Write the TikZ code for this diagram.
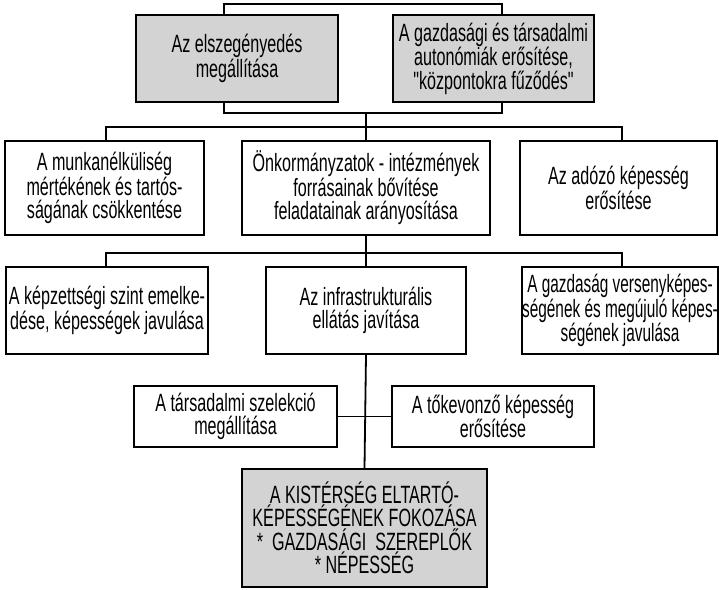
\documentclass[tikz,border=0pt]{standalone}
\usepackage{fontspec}
\newfontfamily\diagfont{Liberation Sans}[FakeStretch=0.645]
\newfontfamily\diagfontn{Liberation Sans}[FakeStretch=0.615]
\definecolor{boxgray}{RGB}{211,211,211}
\tikzset{
  box/.style={draw=black, line width=1.8pt, align=center, inner sep=0pt,
    font=\diagfont\fontsize{25}{23.5}\selectfont},
  narrow/.style={font=\diagfontn\fontsize{25}{23.5}\selectfont},
  grey/.style={fill=boxgray},
  conn/.style={line width=1.8pt}
}
\begin{document}
\begin{tikzpicture}[x=1pt,y=-1pt]
\useasboundingbox (0,0) rectangle (719,589);
% top level
\node[box,grey,minimum width=202pt,minimum height=87pt] (top1) at (237,58.5) {Az elszegényedés\\megállítása};
\node[box,grey,minimum width=201pt,minimum height=87pt] (top2) at (493.5,58.5) {A gazdasági és társadalmi\\autonómiák erősítése,\\"központokra fűződés"};
% level 2
\node[box,minimum width=199pt,minimum height=94pt] (l2a) at (104.5,188) {A munkanélküliség\\mértékének és tartós-\\ságának csökkentése};
\node[box,minimum width=248pt,minimum height=94pt] (l2b) at (366,188) {Önkormányzatok - intézmények\\forrásainak bővítése\\feladatainak arányosítása};
\node[box,minimum width=197pt,minimum height=94pt] (l2c) at (618.5,188) {Az adózó képesség\\erősítése};
% level 3
\node[box,minimum width=202pt,minimum height=87pt] (l3a) at (107,310.5) {A képzettségi szint emelke-\\dése, képességek javulása};
\node[box,minimum width=200pt,minimum height=87pt] (l3b) at (366,310.5) {Az infrastrukturális\\ellátás javítása};
\node[box,narrow,minimum width=196pt,minimum height=87pt] (l3c) at (620,310.5) {A gazdaság versenyképes-\\ségének és megújuló képes-\\ségének javulása};
% level 4
\node[box,minimum width=203pt,minimum height=61pt] (l4a) at (235.5,416.5) {A társadalmi szelekció\\megállítása};
\node[box,minimum width=202pt,minimum height=61pt] (l4b) at (493,416.5) {A tőkevonző képesség\\erősítése};
% bottom
\node[box,grey,minimum width=245pt,minimum height=118pt] (bot) at (364.5,528) {A KISTÉRSÉG ELTARTÓ-\\KÉPESSÉGÉNEK FOKOZÁSA\\*\ \ GAZDASÁGI\ \ SZEREPLŐK\\* NÉPESSÉG};
% connector points
\coordinate (t0) at (366,4);
\coordinate (m1) at (366,113);
\coordinate (m2) at (366,127);
\coordinate (m3) at (366,253);
% connectors
\draw[conn] ([xshift=-13pt]top1.north) |- (t0) -| ([xshift=8.5pt]top2.north);
\draw[conn] ([xshift=-13pt]top1.south) |- (m1) -| ([xshift=8.5pt]top2.south);
\draw[conn] (m1) -- (m2);
\draw[conn] ([xshift=1.5pt]l2a.north) |- (m2) -| ([xshift=3.5pt]l2c.north);
\draw[conn] (m2) -- (l2b.north);
\draw[conn] (l2b.south) -- (l3b.north);
\draw[conn] ([xshift=-1pt]l3a.north) |- (m3) -| ([xshift=2pt]l3c.north);
\draw[conn] (l3b.south) -- (bot.north);
\draw[conn] (l4a.east) -- (l4b.west);
\end{tikzpicture}
\end{document}
